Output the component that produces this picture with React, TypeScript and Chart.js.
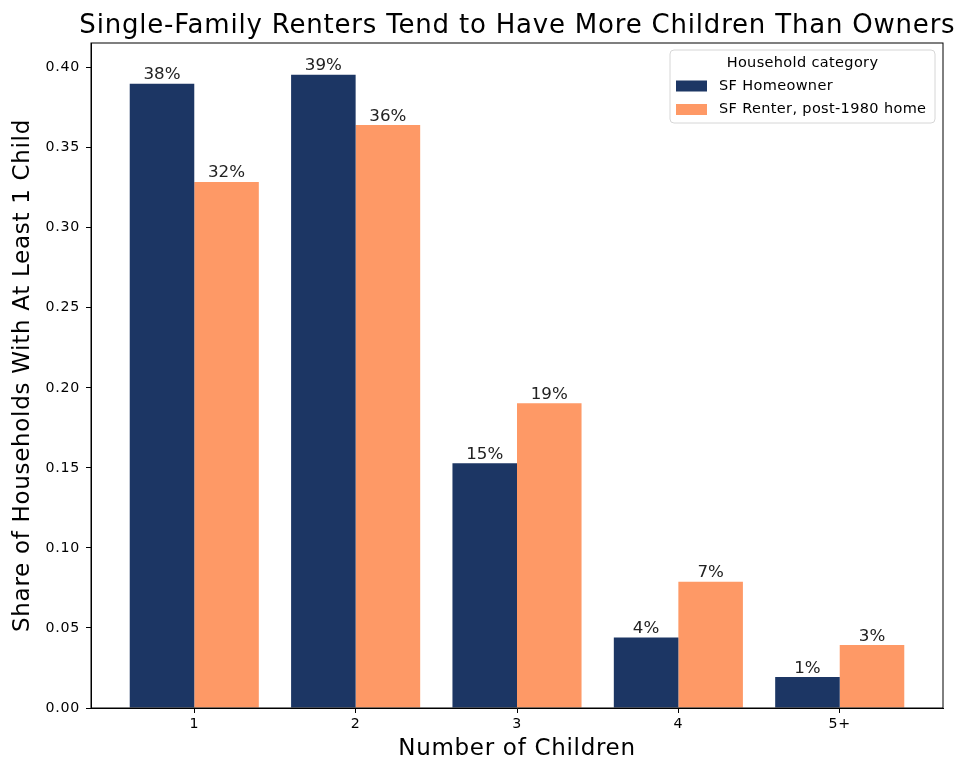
import React, { useEffect, useRef } from "react";
import { Chart, registerables } from "chart.js";

Chart.register(...registerables);

const categories = ["1", "2", "3", "4", "5+"];
const homeownerValues = [0.39, 0.3956, 0.1529, 0.0441, 0.0193];
const renterValues = [0.3286, 0.3641, 0.1903, 0.0788, 0.0393];
const homeownerLabels = ["38%", "39%", "15%", "4%", "1%"];
const renterLabels = ["32%", "36%", "19%", "7%", "3%"];
const yTicks = [0, 0.05, 0.1, 0.15, 0.2, 0.25, 0.3, 0.35, 0.4];
const seriesNames = ["SF Homeowner", "SF Renter, post-1980 home"];
const legendTitle = "Household category";
const chartTitle = "Single-Family Renters Tend to Have More Children Than Owners";
const xTitle = "Number of Children";
const yTitle = "Share of Households With At Least 1 Child";

const NAVY = "#1c3664";
const ORANGE = "#fe9966";
const FONT = "'DejaVu Sans', sans-serif";

const extrasPlugin = {
  id: "extras",
  beforeDraw(chart: any) {
    chart.ctx.letterSpacing = "0.7px";
  },
  afterDatasetsDraw(chart: any) {
    const ctx = chart.ctx;
    const labelsets = [homeownerLabels, renterLabels];
    ctx.save();
    ctx.letterSpacing = "0px";
    ctx.font = `16.7px ${FONT}`;
    ctx.fillStyle = "#222";
    ctx.textAlign = "center";
    ctx.textBaseline = "alphabetic";
    chart.data.datasets.forEach((_: any, di: number) => {
      const meta = chart.getDatasetMeta(di);
      meta.data.forEach((el: any, i: number) => {
        ctx.fillText(labelsets[di][i], el.x, el.y - 4.5);
      });
    });
    ctx.restore();
  },
  afterDraw(chart: any) {
    const ctx = chart.ctx;
    const a = chart.chartArea;
    ctx.save();
    // frame
    ctx.strokeStyle = "#000";
    ctx.lineWidth = 1;
    ctx.strokeRect(a.left, a.top, a.right - a.left, a.bottom - a.top);
    // title
    ctx.letterSpacing = "0.8px";
    ctx.font = `26px ${FONT}`;
    ctx.fillStyle = "#000";
    ctx.textAlign = "center";
    ctx.textBaseline = "alphabetic";
    ctx.fillText(chartTitle, (a.left + a.right) / 2 + 0.4, 32.5);
    // legend
    const w = 265;
    const h = 73;
    const x = a.right - 8 - w;
    const y = a.top + 7;
    const r = 4;
    ctx.beginPath();
    ctx.moveTo(x + r, y);
    ctx.lineTo(x + w - r, y);
    ctx.quadraticCurveTo(x + w, y, x + w, y + r);
    ctx.lineTo(x + w, y + h - r);
    ctx.quadraticCurveTo(x + w, y + h, x + w - r, y + h);
    ctx.lineTo(x + r, y + h);
    ctx.quadraticCurveTo(x, y + h, x, y + h - r);
    ctx.lineTo(x, y + r);
    ctx.quadraticCurveTo(x, y, x + r, y);
    ctx.closePath();
    ctx.fillStyle = "rgba(255,255,255,0.8)";
    ctx.fill();
    ctx.strokeStyle = "#d6d6d6";
    ctx.stroke();
    ctx.letterSpacing = "0.35px";
    ctx.font = `14.5px ${FONT}`;
    ctx.fillStyle = "#000";
    ctx.textBaseline = "middle";
    ctx.textAlign = "center";
    ctx.fillText(legendTitle, x + w / 2, y + 13.5);
    const colors = [NAVY, ORANGE];
    ctx.textAlign = "left";
    seriesNames.forEach((name, i) => {
      const cy = y + 36 + i * 23.5;
      ctx.fillStyle = colors[i];
      ctx.fillRect(x + 6, cy - 5.5, 31, 11);
      ctx.fillStyle = "#000";
      ctx.fillText(name, x + 49, cy);
    });
    ctx.restore();
  },
};

export default function App() {
  const ref = useRef<HTMLCanvasElement>(null);
  useEffect(() => {
    document.body.style.margin = "0";
    if (!ref.current) return;
    const chart = new Chart(ref.current, {
      type: "bar",
      data: {
        datasets: [
          {
            label: seriesNames[0],
            data: homeownerValues.map((v, i) => ({ x: i, y: v })),
            backgroundColor: NAVY,
            categoryPercentage: 0.8,
            barPercentage: 1.0,
          },
          {
            label: seriesNames[1],
            data: renterValues.map((v, i) => ({ x: i, y: v })),
            backgroundColor: ORANGE,
            categoryPercentage: 0.8,
            barPercentage: 1.0,
          },
        ],
      },
      options: {
        animation: false,
        responsive: false,
        maintainAspectRatio: false,
        layout: { padding: { top: 43, right: 17, left: 0, bottom: 0 } },
        plugins: {
          legend: { display: false },
          tooltip: { enabled: false },
          title: { display: false },
        },
        scales: {
          x: {
            type: "linear",
            offset: false,
            min: -0.64,
            max: 4.64,
            afterBuildTicks: (scale: any) => {
              scale.ticks = categories.map((_, i) => ({ value: i }));
            },
            afterFit: (scale: any) => {
              scale.height = 55;
            },
            ticks: {
              callback: (v: any) => categories[Math.round(Number(v))] ?? "",
              font: { family: FONT, size: 14.2 },
              color: "#000",
              padding: 3,
              maxRotation: 0,
            },
            grid: {
              display: true,
              offset: false,
              drawOnChartArea: false,
              drawTicks: true,
              tickLength: 5,
              color: "#000",
            },
            border: { display: true, color: "#000", width: 1 },
            title: {
              display: true,
              text: xTitle,
              font: { family: FONT, size: 23 },
              color: "#000",
              padding: { top: 0, bottom: 0 },
            },
          },
          y: {
            type: "linear",
            min: 0,
            max: 0.4154,
            afterBuildTicks: (scale: any) => {
              scale.ticks = yTicks.map((v) => ({ value: v }));
            },
            afterFit: (scale: any) => {
              scale.width = 91;
            },
            ticks: {
              callback: (v: any) => Number(v).toFixed(2),
              font: { family: FONT, size: 14.2 },
              color: "#000",
              padding: 6,
            },
            grid: {
              display: true,
              drawOnChartArea: false,
              drawTicks: true,
              tickLength: 5,
              color: "#000",
            },
            border: { display: true, color: "#000", width: 1 },
            title: {
              display: true,
              text: yTitle,
              font: { family: FONT, size: 23 },
              color: "#000",
              padding: { top: 9, bottom: 0 },
            },
          },
        },
      },
      plugins: [extrasPlugin],
    } as any);
    return () => chart.destroy();
  }, []);
  return (
    <div style={{ width: 960, height: 763 }}>
      <canvas ref={ref} width={960} height={763} style={{ display: "block", width: 960, height: 763 }} />
    </div>
  );
}
